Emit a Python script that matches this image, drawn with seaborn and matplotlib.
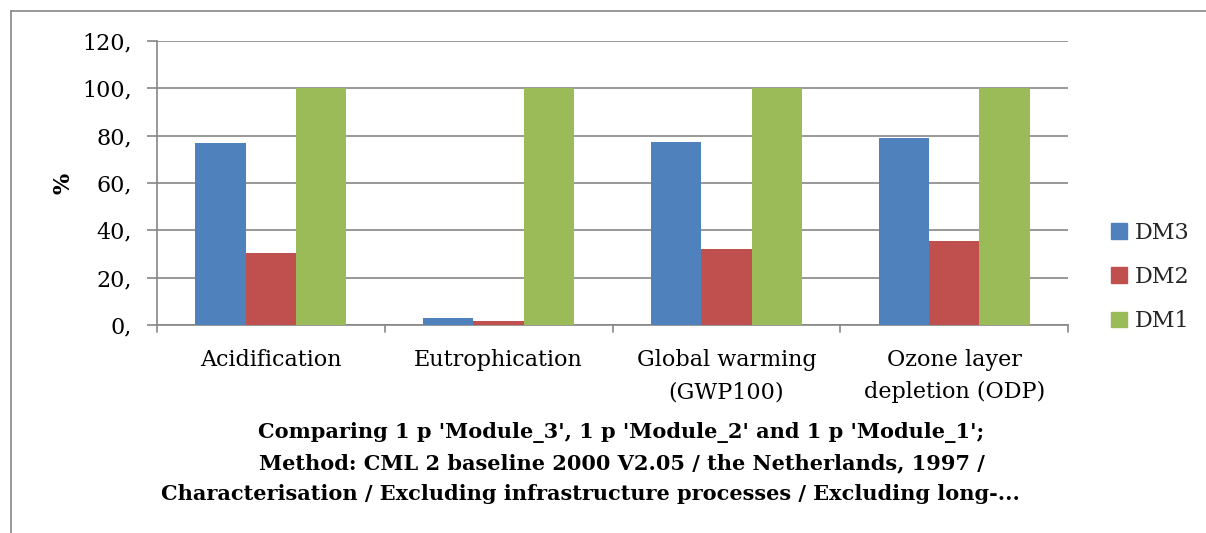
import matplotlib
matplotlib.use("Agg")
import matplotlib.pyplot as plt
import seaborn as sns
import pandas as pd
from matplotlib.patches import Rectangle
from matplotlib.lines import Line2D

categories = ["Acidification", "Eutrophication", "Global warming\n(GWP100)", "Ozone layer\ndepletion (ODP)"]
series = ["DM3", "DM2", "DM1"]
dm3 = [77.0, 3.0, 77.5, 79.2]
dm2 = [30.3, 1.6, 32.0, 35.5]
dm1 = [100.0, 100.0, 100.0, 100.0]
colors = ["#4F81BD", "#C0504D", "#9BBB59"]
yticks = [0, 20, 40, 60, 80, 100, 120]
ytick_labels = ["0,", "20,", "40,", "60,", "80,", "100,", "120,"]
title_lines = ["Comparing 1 p 'Module_3', 1 p 'Module_2' and 1 p 'Module_1';",
               "Method: CML 2 baseline 2000 V2.05 / the Netherlands, 1997 /",
               "Characterisation / Excluding infrastructure processes / Excluding long-..."]

df = pd.DataFrame({
    "category": categories * 3,
    "series": [s for s in series for _ in categories],
    "value": dm3 + dm2 + dm1,
})

sns.set_theme(style="white")
plt.rcParams["font.family"] = ["DejaVu Serif"]

W, H = 1206, 533
fig = plt.figure(figsize=(W / 100, H / 100), dpi=100)
ax = fig.add_axes([157 / W, 1 - 325 / H, (1068 - 157) / W, (325 - 41) / H])

sns.barplot(data=df, x="category", y="value", hue="series", palette=colors,
            width=0.664, gap=0, saturation=1, ax=ax, legend=False, zorder=3,
            linewidth=0, edgecolor="none")

ax.set_ylim(0, 120)
ax.set_xlim(-0.5, 3.5)
ax.set_yticks(yticks)
ax.set_yticklabels(ytick_labels, fontsize=16, color="black")
ax.set_xticks(range(len(categories)))
ax.set_xticklabels(categories, fontsize=16, linespacing=1.58, color="black")
ax.tick_params(axis="x", length=0, pad=17.5)
ax.tick_params(axis="y", length=7, width=1.2, color="#868686", pad=11, left=True)
# x-axis boundary ticks
for b in [-0.5, 0.5, 1.5, 2.5, 3.5]:
    ax.plot([b, b], [0, -3], color="#868686", lw=1.2, clip_on=False, zorder=4)
ax.yaxis.grid(True, color="#868686", lw=1.2, zorder=0)
ax.set_axisbelow(True)
for s in ["top", "right"]:
    ax.spines[s].set_visible(False)
for s in ["left", "bottom"]:
    ax.spines[s].set_color("#868686")
    ax.spines[s].set_linewidth(1.2)
ax.set_xlabel("")
ax.set_ylabel("%", fontsize=16, fontweight="bold", color="black")
ax.yaxis.set_label_coords((75 - 157) / (1068 - 157), 0.5)

title_x = [621, 622, 590]
title_base = [438, 469, 500]
for txt, tx, ty in zip(title_lines, title_x, title_base):
    fig.text(tx / W, 1 - ty / H, txt, ha="center", va="baseline", fontsize=15,
             fontweight="bold", color="black")

handles = [Rectangle((0, 0), 1, 1, color=c) for c in colors]
fig.legend(handles, series, loc="center left", bbox_to_anchor=(1100 / W, 1 - 277 / H),
           frameon=False, fontsize=16, handlelength=0.7, handleheight=0.7,
           handletextpad=0.35, labelspacing=1.0, borderpad=0)

# border lines (top and left)
fig.add_artist(Line2D([11 / W, 11 / W], [0, 1 - 11 / H], transform=fig.transFigure,
                      color="#868686", lw=1.2))
fig.add_artist(Line2D([11 / W, 1], [1 - 11 / H, 1 - 11 / H], transform=fig.transFigure,
                      color="#868686", lw=1.2))

fig.savefig("out.png", dpi=100)
